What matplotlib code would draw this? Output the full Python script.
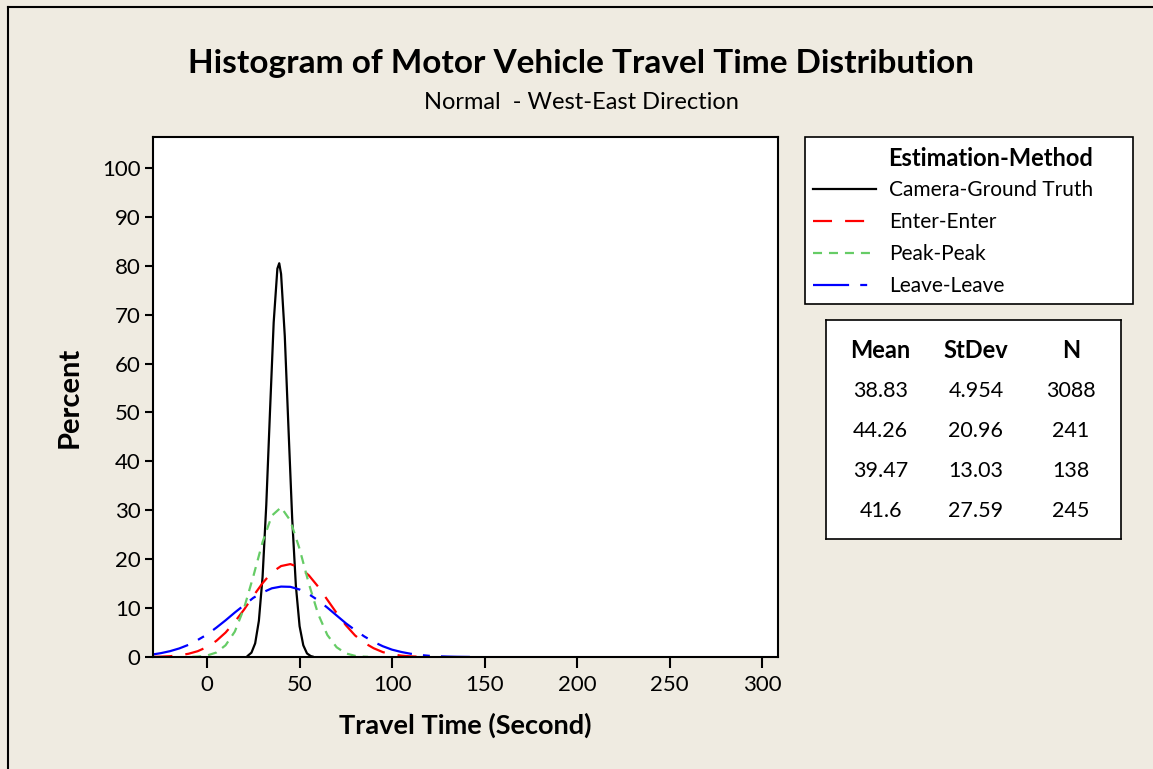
import matplotlib
matplotlib.use('Agg')
from matplotlib import pyplot as plt

plt.rcParams['font.family'] = ['Lato', 'DejaVu Sans']
plt.rcParams['lines.scale_dashes'] = False

# curve values (x in seconds, y in percent)
cam_x = [22, 24, 26, 28, 30, 32, 34, 36, 38, 39, 40, 42, 44, 46, 48, 50, 52, 54, 56, 57]
cam_y = [0.25, 0.9, 2.8, 7.4, 16.4, 31.1, 50.1, 68.4, 79.4, 80.5, 78.3, 65.6, 46.7, 28.3,
         14.5, 6.3, 2.4, 0.74, 0.2, 0.1]

enter_x = [-29, -25, -20, -15, -10, -5, 0, 5, 10, 15, 20, 25, 30, 35, 40, 45, 50, 55, 60,
           65, 70, 75, 80, 85, 90, 95, 100, 105, 110, 115, 118]
enter_y = [0.04, 0.08, 0.17, 0.35, 0.67, 1.2, 2.05, 3.3, 5.0, 7.2, 9.7, 12.5, 15.1, 17.3,
           18.6, 19.0, 18.3, 16.7, 14.4, 11.7, 9.0, 6.5, 4.4, 2.9, 1.8, 1.0, 0.55, 0.28,
           0.14, 0.06, 0.04]

peak_x = [-8, -5, 0, 5, 10, 15, 20, 25, 30, 35, 40, 45, 50, 55, 60, 65, 70, 75, 80, 85, 87]
peak_y = [0.04, 0.09, 0.31, 0.92, 2.4, 5.2, 10.0, 16.5, 23.5, 28.9, 30.6, 27.9, 22.1, 15.0,
          8.8, 4.5, 2.0, 0.74, 0.24, 0.07, 0.04]

leave_x = [-29, -25, -20, -15, -10, -5, 0, 5, 10, 15, 20, 25, 30, 35, 40, 45, 50, 55, 60,
           65, 70, 75, 80, 85, 90, 95, 100, 105, 110, 115, 120, 125, 130, 135, 142]
leave_y = [0.55, 0.79, 1.2, 1.76, 2.5, 3.5, 4.6, 6.0, 7.5, 9.1, 10.6, 12.1, 13.2, 14.05,
           14.4, 14.35, 13.8, 12.85, 11.6, 10.1, 8.5, 6.9, 5.5, 4.2, 3.1, 2.2, 1.5, 1.03,
           0.67, 0.42, 0.25, 0.15, 0.09, 0.05, 0.02]

methods = ['Camera-Ground Truth', 'Enter-Enter', 'Peak-Peak', 'Leave-Leave']
means = ['38.83', '44.26', '39.47', '41.6']
stdevs = ['4.954', '20.96', '13.03', '27.59']
counts = ['3088', '241', '138', '245']

bg = '#EFEBE1'
fig = plt.figure(figsize=(11.53, 7.69), dpi=100, facecolor=bg)

# outer frame lines (left and top)
fig.add_artist(plt.Line2D([0.007, 0.007], [0, 0.991], color='black', lw=1.5))
fig.add_artist(plt.Line2D([0.007, 1.0], [0.991, 0.991], color='black', lw=1.5))

ax = fig.add_axes([0.1327, 0.1456, 0.5421, 0.6762])
ax.plot(cam_x, cam_y, color='black', lw=1.6, label=methods[0])
ax.plot(enter_x, enter_y, color='#FF0000', lw=1.6, linestyle=(0, (13.7, 9.4)), label=methods[1])
ax.plot(peak_x, peak_y, color='#66CC66', lw=1.6, linestyle=(0, (6.5, 5)), label=methods[2])
ax.plot(leave_x, leave_y, color='#0000FF', lw=1.6, linestyle=(0, (26, 8, 5, 8)), label=methods[3])

ax.set_xlim(-29.2, 308.5)
ax.set_ylim(0, 106.3)
ax.set_xticks(range(0, 301, 50))
ax.set_yticks(range(0, 101, 10))
ax.tick_params(axis='x', direction='out', length=8, width=1.5, labelsize=16, pad=5)
ax.tick_params(axis='y', direction='out', length=6, width=1.5, labelsize=16, pad=3)
for s in ax.spines.values():
    s.set_linewidth(1.5)
ax.set_xlabel('Travel Time (Second)', fontsize=19.5, fontweight='bold', labelpad=13)
ax.set_ylabel('Percent', fontsize=21, fontweight='bold', labelpad=14)

fig.text(0.504, 0.918, 'Histogram of Motor Vehicle Travel Time Distribution',
         ha='center', va='center', fontsize=24, fontweight='bold')
fig.text(0.504, 0.867, 'Normal  - West-East Direction', ha='center', va='center', fontsize=17)

leg = fig.legend(loc='upper left', bbox_to_anchor=(0.6982, 0.6060, 0.2845, 0.2158),
                 mode='expand', title=' ',
                 fontsize=15, title_fontproperties={'weight': 'bold', 'size': 18},
                 handlelength=3.0, labelspacing=0.57, borderpad=0.4, borderaxespad=0,
                 handletextpad=0.65, fancybox=False, edgecolor='black', framealpha=1)
leg.get_frame().set_linewidth(1.2)
fig.text(0.7702, 0.7945, 'Estimation-Method', ha='left', va='center', fontsize=17,
         fontweight='bold', zorder=10)

# stats table box
tab = fig.add_axes([0.7164, 0.2991, 0.2559, 0.2848])
tab.set_xticks([])
tab.set_yticks([])
for s in tab.spines.values():
    s.set_linewidth(1.2)
cols = [0.185, 0.508, 0.83]
for c, h in zip(cols, ['Mean', 'StDev', 'N']):
    tab.text(c, 0.86, h, ha='center', va='center', fontsize=17, fontweight='bold',
             transform=tab.transAxes)
for i in range(4):
    yy = 0.677 - i * 0.183
    for c, v in zip(cols, [means[i], stdevs[i], counts[i]]):
        tab.text(c, yy, v, ha='center', va='center', fontsize=15.5, transform=tab.transAxes)

fig.savefig('out.png', dpi=100, facecolor=bg)
